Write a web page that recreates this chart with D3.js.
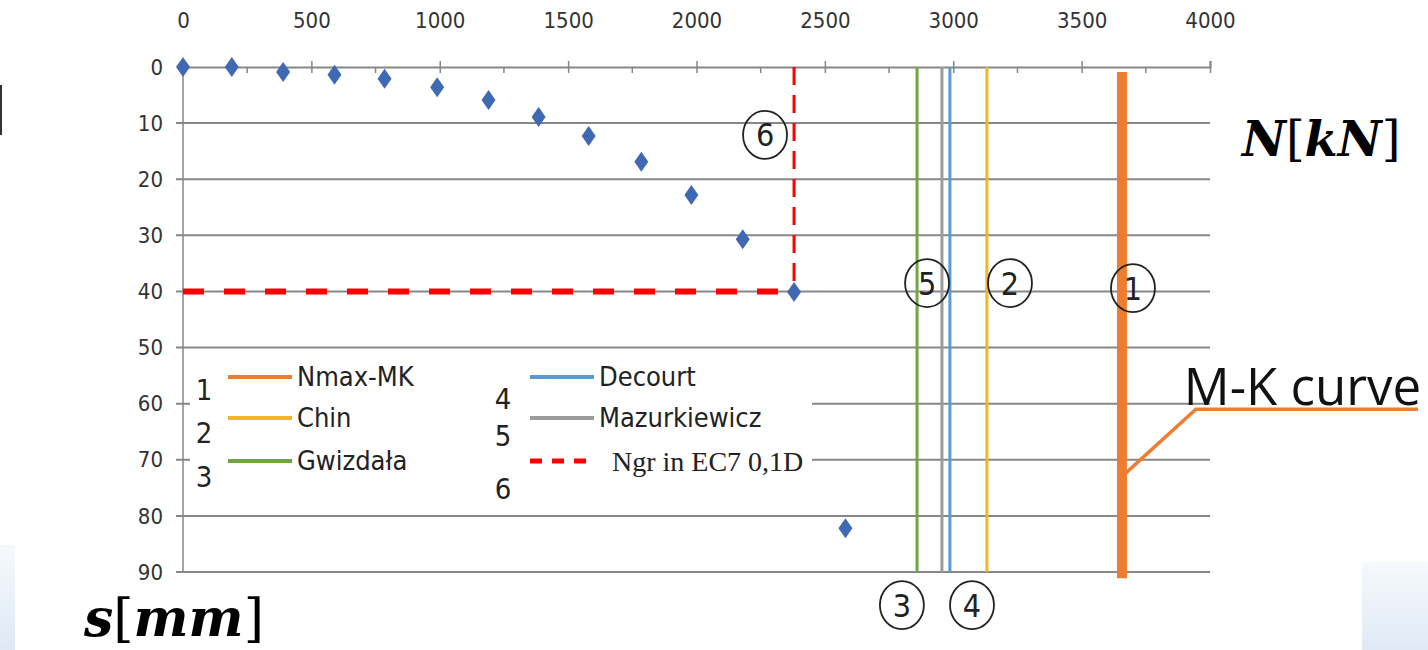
<!DOCTYPE html>
<html>
<head>
<meta charset="utf-8">
<script src="https://cdn.jsdelivr.net/npm/d3@7"></script>
<style>
  body { margin: 0; background: #fff; }
  svg { display: block; }
</style>
</head>
<body>
<svg id="chart" width="1428" height="650"></svg>
<script>
// load test readings
const loadN = [0, 190, 390, 590, 785, 990, 1190, 1385, 1580, 1785, 1980, 2180, 2380, 2580]
const settleS = [0, 0, 0.9, 1.4, 2.1, 3.6, 5.9, 8.9, 12.3, 16.9, 22.8, 30.7, 40.1, 82.2]

// bearing capacity estimates (vertical lines)
const methodNo = [1, 2, 3, 4, 5]
const methodNames = ['Nmax-MK', 'Chin', 'Gwizdała', 'Decourt', 'Mazurkiewicz']
const methodN = [3657, 3131, 2859, 2987, 2956]
const methodColors = ['#ED7D31', '#F0B623', '#6FA542', '#5B9BD5', '#9B9B9B']

// EC7 limit: load at s = 0.1D
const ec7N = [2380]
const ec7S = [40]

const xTicks = [0, 500, 1000, 1500, 2000, 2500, 3000, 3500, 4000]
const yTicks = [0, 10, 20, 30, 40, 50, 60, 70, 80, 90]

// circled numbers, in data units [N, s]
const markNo = ['6', '5', '2', '1', '3', '4']
const markN = [2267, 2898, 3221, 3700, 2800, 3073]
const markS = [12.1, 38.5, 38.5, 39.4, 95.9, 95.9]

const svg = d3.select('#chart')
const sans = "'Liberation Sans Narrow', 'DejaVu Sans Condensed', sans-serif"
const grid = '#878787'

const x = d3.scaleLinear().domain([0, 4000]).range([183, 1210])
const y = d3.scaleLinear().domain([0, 90]).range([67, 572])

// background tint at the corners
const defs = svg.append('defs')
const grad = defs.append('linearGradient').attr('id', 'tint')
  .attr('x1', 0).attr('y1', 0).attr('x2', 0).attr('y2', 1)
grad.append('stop').attr('offset', 0).attr('stop-color', '#f6f9fc')
grad.append('stop').attr('offset', 1).attr('stop-color', '#dfe9f5')
svg.append('rect').attr('x', 1362).attr('y', 562).attr('width', 66).attr('height', 88).attr('fill', 'url(#tint)')
svg.append('rect').attr('x', 0).attr('y', 545).attr('width', 15).attr('height', 105).attr('fill', 'url(#tint)')
svg.append('line').attr('x1', 1).attr('x2', 1).attr('y1', 85).attr('y2', 135)
  .attr('stroke', '#333').attr('stroke-width', 2)

// horizontal gridlines
svg.append('g')
  .selectAll('line')
  .data(yTicks.slice(1))
  .join('line')
  .attr('x1', x(0) - 7)
  .attr('x2', x(4000))
  .attr('y1', d => y(d))
  .attr('y2', d => y(d))
  .attr('stroke', grid)
  .attr('stroke-width', 2)

// y axis
svg.append('line')
  .attr('x1', x(0)).attr('x2', x(0))
  .attr('y1', y(0)).attr('y2', y(90))
  .attr('stroke', grid).attr('stroke-width', 1.5)

svg.append('g')
  .selectAll('text')
  .data(yTicks)
  .join('text')
  .attr('x', x(0) - 20)
  .attr('y', d => y(d))
  .attr('dy', '0.35em')
  .attr('text-anchor', 'end')
  .attr('font-family', sans)
  .attr('font-size', 22)
  .attr('fill', '#333')
  .text(d => d)

// top x axis
const xAxis = d3.axisTop(x)
  .tickValues(xTicks)
  .tickFormat(d3.format('d'))
  .tickSize(6)
  .tickPadding(33)
const xg = svg.append('g')
  .attr('transform', `translate(0, ${y(0)})`)
  .call(xAxis)
xg.select('.domain').attr('stroke', grid).attr('stroke-width', 2)
xg.selectAll('.tick line').attr('stroke', grid).attr('stroke-width', 1.5).attr('y2', 6).attr('y1', -6)
xg.selectAll('.tick text')
  .attr('font-family', sans)
  .attr('font-size', 22)
  .attr('fill', '#333')
xg.selectAll('.minor')
  .data(xTicks.slice(0, -1).map(d => d + 250))
  .join('line')
  .attr('class', 'minor')
  .attr('x1', d => x(d)).attr('x2', d => x(d))
  .attr('y1', 0).attr('y2', 6)
  .attr('stroke', grid).attr('stroke-width', 1.5)

// legend box
const lg = svg.append('g')
lg.append('rect')
  .attr('x', 190).attr('y', 354)
  .attr('width', 622).attr('height', 148)
  .attr('fill', '#fff')

const legendItems = [
  { no: '1', name: methodNames[0], color: methodColors[0], col: 0, row: 0 },
  { no: '2', name: methodNames[1], color: methodColors[1], col: 0, row: 1 },
  { no: '3', name: methodNames[2], color: methodColors[2], col: 0, row: 2 },
  { no: '4', name: methodNames[3], color: methodColors[3], col: 1, row: 0 },
  { no: '5', name: methodNames[4], color: methodColors[4], col: 1, row: 1 },
  { no: '6', name: 'Ngr in EC7 0,1D', color: '#FF0000', col: 1, row: 2, dash: true }
]
const colX = [228, 530]
const rowY = [377, 418, 461]
const numY = [[390, 433, 477], [399, 436, 489]]

lg.selectAll('line.sample')
  .data(legendItems)
  .join('line')
  .attr('class', 'sample')
  .attr('x1', d => colX[d.col])
  .attr('x2', d => colX[d.col] + 64)
  .attr('y1', d => rowY[d.row])
  .attr('y2', d => rowY[d.row])
  .attr('stroke', d => d.color)
  .attr('stroke-width', d => d.dash ? 5 : 4)
  .attr('stroke-dasharray', d => d.dash ? '12 10' : null)

lg.selectAll('text.name')
  .data(legendItems)
  .join('text')
  .attr('class', 'name')
  .attr('x', d => colX[d.col] + (d.dash ? 82 : 69))
  .attr('y', d => rowY[d.row])
  .attr('dy', '0.35em')
  .attr('font-family', d => d.dash ? "'Liberation Serif', serif" : sans)
  .attr('font-size', d => d.dash ? 28 : 27)
  .attr('fill', '#222')
  .text(d => d.name)

lg.selectAll('text.no')
  .data(legendItems)
  .join('text')
  .attr('class', 'no')
  .attr('x', d => d.col ? 503 : 204)
  .attr('y', d => numY[d.col][d.row])
  .attr('dy', '0.35em')
  .attr('text-anchor', 'middle')
  .attr('font-family', sans)
  .attr('font-size', 29)
  .attr('fill', '#222')
  .text(d => d.no)

// EC7 dashed limit lines
svg.append('line')
  .attr('x1', x(0)).attr('x2', x(ec7N[0]))
  .attr('y1', y(ec7S[0])).attr('y2', y(ec7S[0]))
  .attr('stroke', '#FF0000').attr('stroke-width', 6)
  .attr('stroke-dasharray', '21 20')
svg.append('line')
  .attr('x1', x(ec7N[0])).attr('x2', x(ec7N[0]))
  .attr('y1', y(0)).attr('y2', y(ec7S[0]))
  .attr('stroke', '#FF0000').attr('stroke-width', 3)
  .attr('stroke-dasharray', '18 10')

// method vertical lines
svg.append('g')
  .selectAll('line')
  .data(methodN.map((n, i) => ({ n, i })))
  .join('line')
  .attr('x1', d => x(d.n)).attr('x2', d => x(d.n))
  .attr('y1', d => d.i === 0 ? y(0.9) : y(0))
  .attr('y2', d => d.i === 0 ? y(91.1) : y(90))
  .attr('stroke', d => methodColors[d.i])
  .attr('stroke-width', d => d.i === 0 ? 10 : 3)

// measured points
svg.append('g')
  .selectAll('path')
  .data(loadN.map((n, i) => [n, settleS[i]]))
  .join('path')
  .attr('transform', d => `translate(${x(d[0])},${y(d[1])})`)
  .attr('d', 'M0,-10L7,0L0,10L-7,0Z')
  .attr('fill', '#3F69B3')

// circled numbers
const marks = svg.append('g')
  .selectAll('g')
  .data(markNo.map((t, i) => ({ t, n: markN[i], s: markS[i] })))
  .join('g')
  .attr('transform', d => `translate(${x(d.n)},${y(d.s)})`)
marks.append('ellipse')
  .attr('rx', 22).attr('ry', 24)
  .attr('fill', 'none')
  .attr('stroke', '#222')
  .attr('stroke-width', 1.8)
marks.append('text')
  .attr('dy', '0.36em')
  .attr('text-anchor', 'middle')
  .attr('font-family', sans)
  .attr('font-size', 32)
  .attr('fill', '#222')
  .text(d => d.t)

// M-K curve callout
const leader = [[methodN[0], 73], [3945, 61], [4810, 61]]
svg.append('path')
  .attr('d', d3.line().x(d => x(d[0])).y(d => y(d[1]))(leader))
  .attr('fill', 'none')
  .attr('stroke', '#ED7D31')
  .attr('stroke-width', 3.5)
svg.append('text')
  .attr('x', x(3898)).attr('y', y(60.2))
  .attr('font-family', "'Open Sans', sans-serif")
  .attr('font-size', 51)
  .attr('fill', '#111')
  .text('M-K curve')

// axis titles
const title = (tx, ty, size, parts) => {
  const t = svg.append('text')
    .attr('x', tx).attr('y', ty)
    .attr('font-family', "'DejaVu Serif', serif")
    .attr('font-size', size)
    .attr('font-weight', 'bold')
    .attr('fill', '#000')
  parts.forEach(p => t.append('tspan')
    .attr('font-style', p[1] ? 'italic' : 'normal')
    .attr('font-weight', p[1] ? 'bold' : 'normal')
    .text(p[0]))
}
title(1242, 156, 48, [['N', 1], ['[', 0], ['kN', 1], [']', 0]])
title(84, 636, 52, [['s', 1], ['[', 0], ['mm', 1], [']', 0]])
</script>
</body>
</html>
